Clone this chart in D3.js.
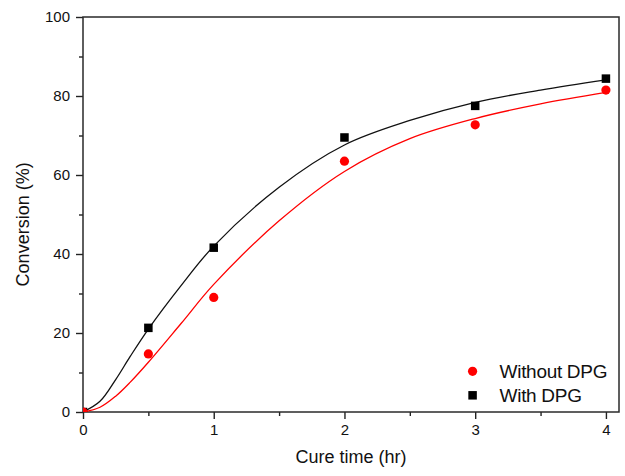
<!DOCTYPE html>
<html>
<head>
<meta charset="utf-8">
<script src="https://cdn.jsdelivr.net/npm/d3@7"></script>
<style>
  body { margin: 0; background: #fff; }
  text { font-family: Arial, "Liberation Sans", sans-serif; fill: #111; }
</style>
</head>
<body>
<svg id="chart" width="625" height="476"></svg>
<script>
// measured points
const times = [0, 0.5, 1, 2, 3, 4]
const withoutDPG = [0, 14.7, 29, 63.5, 72.7, 81.5]
const withDPG = [0, 21.3, 41.6, 69.5, 77.5, 84.4]

// fitted curves
const fitTimes = [0, 0.13, 0.25, 0.36, 0.5, 0.75, 1, 1.5, 2, 2.5, 3, 3.5, 4]
const fitWithout = [0, 1.2, 4, 7.5, 12.6, 22.4, 32.3, 48.4, 60.9, 69.2, 74.3, 78, 80.9]
const fitWith = [0, 2.7, 8.2, 14, 21, 32, 42, 56.9, 67.6, 73.8, 78.4, 81.5, 84.1]

const xTicks = [0, 1, 2, 3, 4]
const yTicks = [0, 20, 40, 60, 80, 100]
const seriesNames = ['Without DPG', 'With DPG']

const svg = d3.select('#chart')
const margin = { left: 83, top: 17, right: 6, bottom: 64 }
const width = 625 - margin.left - margin.right
const height = 476 - margin.top - margin.bottom

const x = d3.scaleLinear().domain([0, 4.1]).range([0, width])
const y = d3.scaleLinear().domain([0, 100]).range([height, 0])

const g = svg.append('g').attr('transform', `translate(${margin.left},${margin.top})`)

g.append('clipPath').attr('id', 'plotclip')
  .append('rect').attr('width', width).attr('height', height)

// minor ticks
g.append('g')
  .attr('transform', `translate(0,${height})`)
  .call(d3.axisBottom(x).tickValues([0.5, 1.5, 2.5, 3.5]).tickSize(4).tickFormat(''))
  .call(a => a.select('.domain').remove())
g.append('g')
  .call(d3.axisLeft(y).tickValues([10, 30, 50, 70, 90]).tickSize(4).tickFormat(''))
  .call(a => a.select('.domain').remove())

// major ticks
g.append('g')
  .attr('transform', `translate(0,${height})`)
  .call(d3.axisBottom(x).tickValues(xTicks).tickSize(7).tickPadding(5).tickFormat(d3.format('d')))
g.append('g')
  .call(d3.axisLeft(y).tickValues(yTicks).tickSize(7).tickPadding(6).tickFormat(d3.format('d')))

svg.selectAll('.tick line').attr('stroke', '#222').attr('stroke-width', 1.4)
svg.selectAll('.domain').remove()
svg.selectAll('.tick text').style('font-size', '15px').attr('fill', '#111')

// frame
g.append('rect')
  .attr('width', width).attr('height', height)
  .attr('fill', 'none').attr('stroke', '#2a2a2a').attr('stroke-width', 1.5)

const plot = g.append('g').attr('clip-path', 'url(#plotclip)')

const line = d3.line()
  .x((d, i) => x(fitTimes[i]))
  .y(d => y(d))
  .curve(d3.curveCatmullRom.alpha(0.5))

plot.append('path').datum(fitWith)
  .attr('d', line).attr('fill', 'none').attr('stroke', '#111').attr('stroke-width', 1.3)
plot.append('path').datum(fitWithout)
  .attr('d', line).attr('fill', 'none').attr('stroke', '#f00').attr('stroke-width', 1.3)

const sq = 8.5
plot.selectAll('rect.pt').data(withDPG).enter().append('rect')
  .attr('class', 'pt')
  .attr('x', (d, i) => x(times[i]) - sq / 2)
  .attr('y', d => y(d) - sq / 2)
  .attr('width', sq).attr('height', sq)
  .attr('fill', '#000')

plot.selectAll('circle.pt').data(withoutDPG).enter().append('circle')
  .attr('class', 'pt')
  .attr('cx', (d, i) => x(times[i]))
  .attr('cy', d => y(d))
  .attr('r', 4.6)
  .attr('fill', '#f00')

// legend
const legend = g.append('g').attr('transform', `translate(${x(2.98)},${y(10.3)})`)
seriesNames.forEach((name, i) => {
  const row = legend.append('g').attr('transform', `translate(0,${i * 24})`)
  if (i == 0) {
    row.append('circle').attr('r', 4.6).attr('fill', '#f00')
  } else {
    row.append('rect').attr('x', -sq / 2).attr('y', -sq / 2).attr('width', sq).attr('height', sq).attr('fill', '#000')
  }
  row.append('text')
    .attr('x', 27).attr('y', 6.5)
    .style('font-size', '19px')
    .style('letter-spacing', '-0.3px')
    .text(name)
})

// axis titles
svg.append('text')
  .attr('x', margin.left + x(2.05)).attr('y', 463)
  .attr('text-anchor', 'middle')
  .style('font-size', '18px')
  .text('Cure time (hr)')

svg.append('text')
  .attr('transform', `translate(29,${margin.top + y(47.5)}) rotate(-90)`)
  .attr('text-anchor', 'middle')
  .style('font-size', '18px')
  .text('Conversion (%)')
</script>
</body>
</html>
